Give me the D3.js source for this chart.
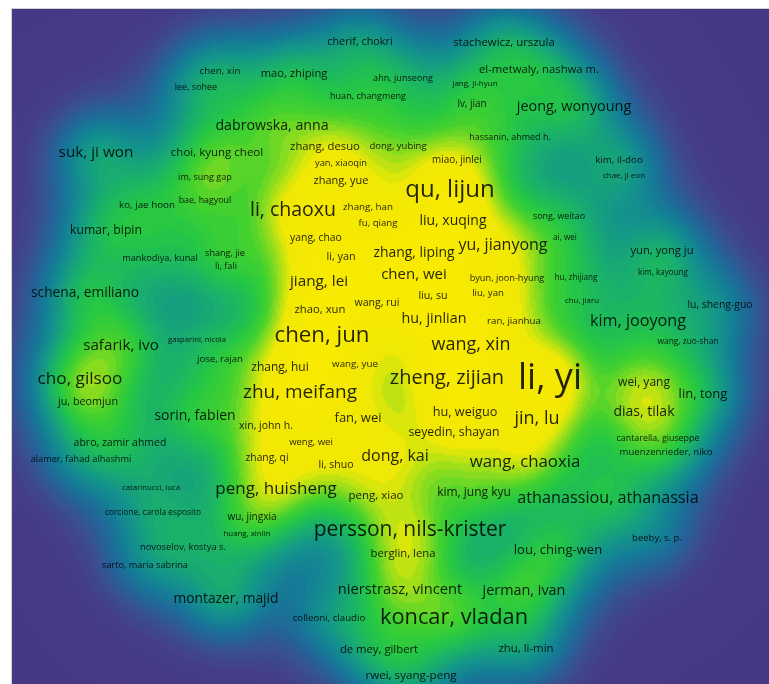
<!DOCTYPE html>
<html>
<head>
<meta charset="utf-8">
<script src="https://cdn.jsdelivr.net/npm/d3@7"></script>
<style>
  html, body { margin: 0; padding: 0; background: #fff; }
  #chart { position: relative; width: 769px; height: 684px; overflow: hidden; }
  #chart canvas, #chart svg { position: absolute; left: 0; top: 0; }
</style>
</head>
<body>
<div id="chart"></div>
<script>
// Author co-authorship density map: each author has map coordinates,
// a document weight (label size) and a link weight (density contribution).
const authorNames = [
  "cherif, chokri", "stachewicz, urszula", "chen, xin", "mao, zhiping", "el-metwaly, nashwa m.",
  "lee, sohee", "ahn, junseong", "jang, ji-hyun", "huan, changmeng", "lv, jian",
  "jeong, wonyoung", "dabrowska, anna", "hassanin, ahmed h.", "suk, ji won", "choi, kyung cheol",
  "zhang, desuo", "dong, yubing", "yan, xiaoqin", "miao, jinlei", "kim, il-doo",
  "chae, ji eon", "im, sung gap", "zhang, yue", "ko, jae hoon", "bae, hagyoul",
  "li, chaoxu", "zhang, han", "fu, qiang", "qu, lijun", "liu, xuqing",
  "song, weitao", "ai, wei", "yu, jianyong", "yang, chao", "li, yan",
  "zhang, liping", "kumar, bipin", "mankodiya, kunal", "shang, jie", "li, fali",
  "yun, yong ju", "kim, kayoung", "byun, joon-hyung", "hu, zhijiang", "jiang, lei",
  "chen, wei", "liu, su", "liu, yan", "schena, emiliano", "chu, jiaru",
  "lu, sheng-guo", "zhao, xun", "wang, rui", "hu, jinlian", "ran, jianhua",
  "kim, jooyong", "safarik, ivo", "gasparini, nicola", "chen, jun", "wang, xin",
  "wang, zuo-shan", "jose, rajan", "zhang, hui", "wang, yue", "cho, gilsoo",
  "zhu, meifang", "zheng, zijian", "li, yi", "wei, yang", "lin, tong",
  "ju, beomjun", "dias, tilak", "jin, lu", "sorin, fabien", "xin, john h.",
  "fan, wei", "hu, weiguo", "seyedin, shayan", "abro, zamir ahmed", "cantarella, giuseppe",
  "weng, wei", "alamer, fahad alhashmi", "muenzenrieder, niko", "zhang, qi", "li, shuo",
  "dong, kai", "wang, chaoxia", "catarinucci, luca", "peng, huisheng", "peng, xiao",
  "kim, jung kyu", "athanassiou, athanassia", "corcione, carola esposito", "wu, jingxia", "huang, xinlin",
  "persson, nils-krister", "novoselov, kostya s.", "berglin, lena", "lou, ching-wen", "beeby, s. p.",
  "sarto, maria sabrina", "nierstrasz, vincent", "jerman, ivan", "montazer, majid", "koncar, vladan",
  "colleoni, claudio", "de mey, gilbert", "zhu, li-min", "rwei, syang-peng"
];

const mapX = [
  -3.0, 11.4, -17.0, -9.6, 14.9,
  -19.4, 1.3, 8.5, -2.2, 8.2,
  18.4, -11.8, 12.0, -29.4, -17.3,
  -6.5, 0.8, -4.9, 6.7, 22.9,
  23.4, -18.5, -4.9, -24.3, -18.5,
  -9.7, -2.2, -1.2, 6.0, 6.3,
  16.9, 17.5, 11.3, -7.4, -4.9,
  2.4, -28.4, -23.0, -16.5, -16.4,
  27.2, 27.3, 11.7, 18.6, -7.1,
  2.4, 4.3, 9.8, -30.5, 19.2,
  33.0, -7.0, -1.3, 4.4, 12.4,
  24.8, -26.9, -19.3, -6.8, 8.1,
  29.8, -17.0, -11.0, -3.5, -31.0,
  -9.0, 5.7, 16.0, 25.4, 31.3,
  -30.2, 25.4, 14.7, -19.5, -12.4,
  -3.2, 7.5, 6.4, -27.0, 26.8,
  -7.9, -30.9, 27.6, -12.3, -5.4,
  0.5, 13.5, -23.9, -11.4, -1.4,
  8.4, 21.8, -23.7, -13.8, -14.3,
  2.0, -20.7, 1.3, 16.8, 26.7,
  -24.5, 1.0, 13.4, -16.4, 6.4,
  -6.1, -1.1, 13.6, 2.1
];

const mapY = [
  29.8, 29.8, 26.9, 26.7, 27.1,
  25.3, 26.2, 25.7, 24.4, 23.6,
  23.4, 21.5, 20.3, 18.8, 18.8,
  19.4, 19.4, 17.7, 18.0, 18.0,
  16.5, 16.3, 16.0, 13.5, 14.0,
  13.0, 13.3, 11.7, 15.1, 11.9,
  12.4, 10.3, 9.5, 10.2, 8.3,
  8.7, 11.0, 8.2, 8.7, 7.4,
  9.0, 6.8, 6.2, 6.3, 5.9,
  6.6, 4.4, 4.7, 4.7, 4.0,
  3.5, 3.1, 3.7, 2.2, 1.9,
  1.9, -0.5, 0.0, 0.5, -0.4,
  -0.1, -1.9, -2.7, -2.4, -3.8,
  -5.2, -3.8, -3.7, -4.2, -5.4,
  -6.2, -7.2, -7.8, -7.6, -8.6,
  -7.8, -7.2, -9.2, -10.3, -9.8,
  -10.2, -11.9, -11.2, -11.8, -12.5,
  -11.6, -12.2, -14.8, -14.9, -15.5,
  -15.2, -15.8, -17.2, -17.7, -19.3,
  -18.9, -20.7, -21.3, -21.0, -19.8,
  -22.5, -24.9, -25.0, -25.9, -27.7,
  -27.8, -30.9, -30.8, -33.5
];

// Document weight: sets the label size
const weight = [
  3.8, 4.4, 2.8, 4.2, 4.3,
  2.0, 2.1, 1.0, 2.1, 2.9,
  7.4, 7.2, 2.0, 8.3, 4.5,
  4.3, 2.5, 2.3, 2.9, 2.8,
  1.0, 2.1, 4.0, 2.8, 1.9,
  12.5, 2.8, 2.6, 17.0, 7.0,
  1.9, 1.2, 9.0, 3.4, 3.8,
  6.9, 5.2, 2.2, 2.1, 2.1,
  4.2, 1.1, 2.2, 1.1, 8.3,
  8.0, 3.7, 2.6, 6.8, 0.9,
  3.4, 4.3, 3.5, 7.3, 2.7,
  9.2, 8.2, 0.7, 15.3, 11.0,
  1.4, 2.6, 5.0, 2.8, 10.2,
  12.0, 13.0, 29.0, 5.0, 6.0,
  3.8, 7.0, 11.0, 7.0, 3.5,
  6.0, 5.7, 5.3, 3.5, 1.9,
  2.5, 2.2, 2.6, 3.3, 3.5,
  9.0, 9.8, 0.8, 10.0, 4.5,
  5.0, 9.2, 1.3, 3.0, 0.9,
  14.0, 2.3, 4.3, 6.1, 2.5,
  2.2, 7.7, 7.4, 6.8, 14.8,
  2.7, 4.3, 4.4, 4.6
];

// Link weight: sets each author's share of the density surface
const linkWeight = [
  3.8, 4.0, 2.8, 5.0, 4.0,
  2.0, 2.1, 1.0, 2.1, 2.5,
  7.4, 6.0, 2.0, 7.0, 5.0,
  4.3, 2.5, 2.3, 3.5, 2.5,
  1.0, 2.5, 4.0, 2.8, 1.9,
  14.0, 1.8, 1.8, 20.0, 7.0,
  1.9, 1.2, 9.0, 3.4, 3.8,
  6.9, 5.2, 2.2, 2.1, 2.1,
  4.2, 1.1, 2.2, 1.1, 8.3,
  9.0, 3.7, 2.6, 7.5, 0.8,
  2.5, 4.3, 3.5, 8.0, 2.7,
  2.0, 8.2, 0.7, 19.0, 14.0,
  0.8, 2.6, 5.0, 4.0, 10.2,
  14.0, 16.0, 29.0, 8.0, 4.0,
  3.8, 6.0, 13.0, 7.5, 3.5,
  7.0, 5.7, 5.3, 3.0, 1.5,
  2.5, 2.0, 2.0, 3.3, 3.5,
  9.0, 9.8, 0.8, 9.0, 4.5,
  5.0, 7.0, 1.3, 3.0, 0.9,
  7.0, 2.0, 4.3, 7.0, 2.0,
  1.8, 7.7, 10.0, 6.8, 10.0,
  2.7, 4.0, 4.0, 4.0
];

// Density colour ramp (purple -> blue -> green -> yellow)
const rampStops = [0, 0.12, 0.22, 0.32, 0.42, 0.52, 0.61, 0.68, 0.74, 0.79, 0.84, 1.0];
const rampColors = [
  "rgb(71,56,133)", "rgb(69,61,136)", "rgb(58,78,144)", "rgb(35,100,152)", "rgb(20,124,150)",
  "rgb(20,150,137)", "rgb(26,178,105)", "rgb(36,198,70)", "rgb(70,210,45)", "rgb(150,222,28)",
  "rgb(240,232,5)", "rgb(255,236,0)"
];

const W = 769, H = 684;
const plot = { left: 12, top: 9, right: 769, bottom: 684 };

const x = d3.scaleLinear().domain([-37.8, 37.9]).range([plot.left, plot.right]);
const y = d3.scaleLinear().domain([33.1, -34.4]).range([plot.top, plot.bottom]);
const fontSize = d3.scaleLinear().domain([0, 29]).range([7, 36]);
const color = d3.scaleLinear().domain(rampStops).range(rampColors)
  .interpolate(d3.interpolateRgb).clamp(true);

const items = authorNames.map((name, i) => ({
  name, px: x(mapX[i]), py: y(mapY[i]), w: weight[i], m: Math.sqrt(linkWeight[i])
}));

// ---- Gaussian kernel density (narrow + broad kernel) on a coarse grid ----
const step = 2;
const gw = Math.ceil((plot.right - plot.left) / step);
const gh = Math.ceil((plot.bottom - plot.top) / step);
const sNarrow = 28, sBroad = 50, mix = 0.55, sat = 4.4, levels = 64;
const kn = 1 / (2 * sNarrow * sNarrow), kb = 1 / (2 * sBroad * sBroad);

const lut = d3.range(levels + 1).map(i => d3.rgb(color(i / levels)));

const off = document.createElement("canvas");
off.width = gw; off.height = gh;
const octx = off.getContext("2d");
const img = octx.createImageData(gw, gh);
for (let j = 0; j < gh; j++) {
  const py = plot.top + (j + 0.5) * step;
  for (let i = 0; i < gw; i++) {
    const px = plot.left + (i + 0.5) * step;
    let dens = 0;
    for (let k = 0; k < items.length; k++) {
      const dx = px - items[k].px, dy = py - items[k].py;
      const r2 = dx * dx + dy * dy;
      if (r2 > 70000) continue;
      dens += items[k].m * (mix * Math.exp(-r2 * kn) + (1 - mix) * Math.exp(-r2 * kb));
    }
    const t = 1 - Math.exp(-dens / sat);
    const c = lut[Math.max(0, Math.min(levels, Math.round(t * levels)))];
    const o = (j * gw + i) * 4;
    img.data[o] = c.r; img.data[o + 1] = c.g; img.data[o + 2] = c.b; img.data[o + 3] = 255;
  }
}
octx.putImageData(img, 0, 0);

const chart = d3.select("#chart");
const canvas = chart.append("canvas").attr("width", W).attr("height", H).node();
const ctx = canvas.getContext("2d");
ctx.fillStyle = "#fff";
ctx.fillRect(0, 0, W, H);
ctx.imageSmoothingEnabled = true;
ctx.imageSmoothingQuality = "high";
ctx.drawImage(off, plot.left, plot.top, gw * step, gh * step);

// ---- labels ----
const svg = chart.append("svg").attr("width", W).attr("height", H);

svg.append("rect")
  .attr("x", plot.left - 0.5).attr("y", plot.top - 0.5)
  .attr("width", plot.right - plot.left + 2).attr("height", plot.bottom - plot.top + 2)
  .attr("fill", "none").attr("stroke", "#cfcfd6").attr("stroke-width", 1);

svg.append("g")
  .attr("font-family", "'Open Sans', 'Noto Sans', sans-serif")
  .attr("text-anchor", "middle")
  .selectAll("text")
  .data(items)
  .join("text")
  .attr("x", d => d.px)
  .attr("y", d => d.py)
  .attr("dy", "0.32em")
  .attr("font-size", d => fontSize(d.w))
  .attr("fill", "#000")
  .attr("fill-opacity", 0.85)
  .text(d => d.name);
</script>
</body>
</html>
